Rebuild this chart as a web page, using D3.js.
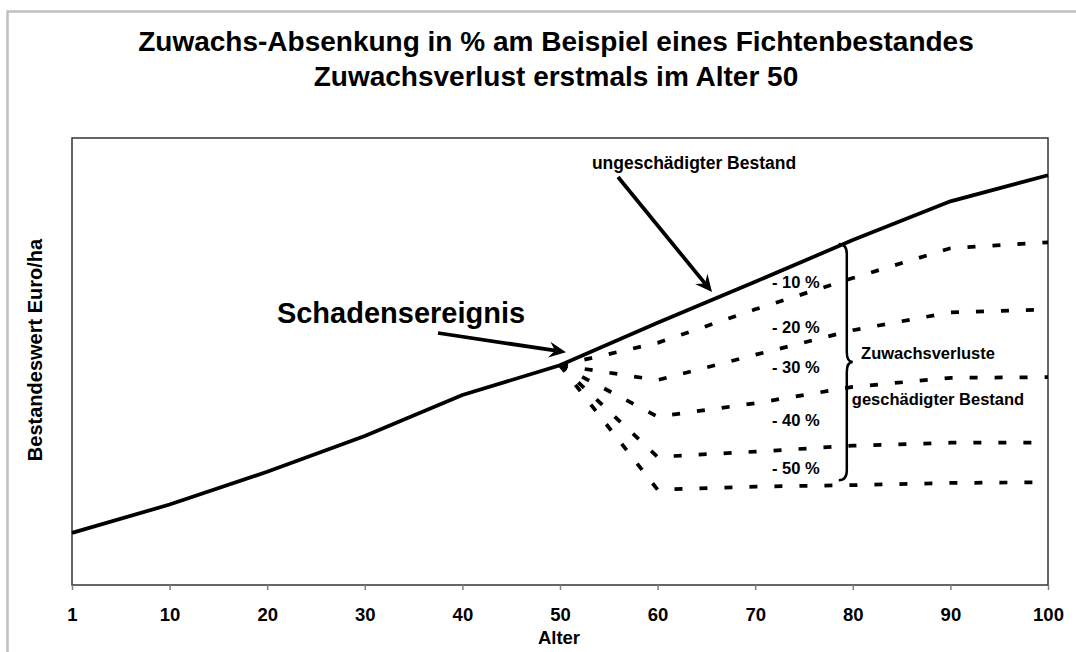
<!DOCTYPE html>
<html>
<head>
<meta charset="utf-8">
<script src="https://cdn.jsdelivr.net/npm/d3@7"></script>
<style>
  body { margin: 0; background: #fff; }
  svg { display: block; font-family: 'Liberation Sans', Arial, sans-serif; font-weight: bold; }
</style>
</head>
<body>
<div id="chart"></div>
<script>
  // Alter (category axis)
  var ages = [1, 10, 20, 30, 40, 50, 60, 70, 80, 90, 100]
  // Bestandeswert Euro/ha, ungeschaedigter Bestand
  var healthy = [3500, 5400, 7600, 10000, 12750, 14750, 17600, 20350, 23150, 25750, 27500]

  // geschaedigte Bestaende, ab Alter 50
  var damageAges = [50, 60, 70, 80, 90, 100]
  var minus10 = [14750, 16250, 18500, 20600, 22600, 23000]
  var minus20 = [14750, 13750, 15450, 17100, 18300, 18500]
  var minus30 = [14750, 11300, 12200, 13300, 13900, 13950]
  var minus40 = [14750, 8600, 8950, 9350, 9550, 9550]
  var minus50 = [14750, 6400, 6600, 6700, 6850, 6900]
  var lossLabels = ['- 10 %', '- 20 %', '- 30 %', '- 40 %', '- 50 %']

  var titleLines = ['Zuwachs-Absenkung in % am Beispiel eines Fichtenbestandes',
    'Zuwachsverlust erstmals im Alter 50']

  var width = 1076
  var height = 652
  var plot = { left: 72, top: 138, right: 1048, bottom: 585 }

  var svg = d3.select('#chart').append('svg')
              .attr('width', width)
              .attr('height', height)

  // outer chart frame (cut off at right and bottom)
  svg.append('rect')
      .attr('x', 7.5).attr('y', 11.5)
      .attr('width', 1200).attr('height', 1000)
      .attr('fill', 'none')
      .attr('stroke', '#c0c0c0')
      .attr('stroke-width', 2.5)

  svg.append('g').selectAll('text')
      .data(titleLines)
      .enter()
      .append('text')
        .attr('x', 556)
        .attr('y', function (d, i) { return 51 + i * 35 })
        .attr('text-anchor', 'middle')
        .attr('font-size', 28)
        .text(function (d) { return d })

  var x = d3.scalePoint().domain(ages).range([plot.left, plot.right])
  var y = d3.scaleLinear().domain([0, 30000]).range([plot.bottom, plot.top])

  // plot frame
  svg.append('rect')
      .attr('x', plot.left).attr('y', plot.top)
      .attr('width', plot.right - plot.left)
      .attr('height', plot.bottom - plot.top)
      .attr('fill', 'none')
      .attr('stroke', '#333')
      .attr('stroke-width', 1.5)

  var xAxis = d3.axisBottom(x).tickSize(5).tickPadding(18)
  var xAxisGroup = svg.append('g')
      .attr('transform', 'translate(0,' + plot.bottom + ')')
      .call(xAxis)
  xAxisGroup.select('.domain').remove()
  xAxisGroup.selectAll('line').attr('stroke', '#808080').attr('stroke-width', 1.5)
  xAxisGroup.selectAll('text')
      .attr('font-family', "'Liberation Sans', Arial, sans-serif")
      .attr('font-weight', 'bold')
      .attr('font-size', 18.5)
      .attr('fill', '#000')

  svg.append('text')
      .attr('x', (plot.left + plot.right) / 2 - 1)
      .attr('y', 644)
      .attr('text-anchor', 'middle')
      .attr('font-size', 18.5)
      .text('Alter')

  svg.append('text')
      .attr('transform', 'translate(42,350) rotate(-90)')
      .attr('text-anchor', 'middle')
      .attr('font-size', 20)
      .text('Bestandeswert Euro/ha')

  var line = d3.line()
      .x(function (d) { return x(d[0]) })
      .y(function (d) { return y(d[1]) })

  var lines = svg.append('g').classed('lines', true)

  var damaged = [minus10, minus20, minus30, minus40, minus50]
  lines.selectAll('path.damaged')
      .data(damaged)
      .enter()
      .append('path')
        .classed('damaged', true)
        .attr('d', function (d) { return line(d3.zip(damageAges, d)) })
        .attr('fill', 'none')
        .attr('stroke', '#000')
        .attr('stroke-width', 3.75)
        .attr('stroke-dasharray', '8,17')

  lines.append('path')
      .attr('d', line(d3.zip(ages, healthy)))
      .attr('fill', 'none')
      .attr('stroke', '#000')
      .attr('stroke-width', 3.75)

  // annotations
  function arrow (g, x1, y1, x2, y2) {
    var ang = Math.atan2(y2 - y1, x2 - x1)
    var c = Math.cos(ang)
    var s = Math.sin(ang)
    var len = 17
    var wid = 8
    g.append('line')
        .attr('x1', x1).attr('y1', y1)
        .attr('x2', x2 - c * len * 0.6).attr('y2', y2 - s * len * 0.6)
        .attr('stroke', '#000')
        .attr('stroke-width', 3.75)
    var pts = [
      [x2, y2],
      [x2 - c * len - s * wid, y2 - s * len + c * wid],
      [x2 - c * len * 0.65, y2 - s * len * 0.65],
      [x2 - c * len + s * wid, y2 - s * len - c * wid]
    ]
    g.append('path')
        .attr('d', 'M' + pts.join('L') + 'Z')
        .attr('fill', '#000')
  }

  var notes = svg.append('g').classed('notes', true)

  notes.append('text')
      .attr('x', 401).attr('y', 323)
      .attr('text-anchor', 'middle')
      .attr('font-size', 29)
      .text('Schadensereignis')
  arrow(notes, 438, 333, x(50) + 6, y(healthy[5]) - 13)

  notes.append('text')
      .attr('x', 694).attr('y', 169)
      .attr('text-anchor', 'middle')
      .attr('font-size', 17.5)
      .text('ungeschädigter Bestand')
  arrow(notes, 618, 177, 712, 292)

  var lossLabelY = [288, 333, 373, 426, 474]
  notes.selectAll('text.loss')
      .data(lossLabels)
      .enter()
      .append('text')
        .classed('loss', true)
        .attr('x', x(80) - 57)
        .attr('y', function (d, i) { return lossLabelY[i] })
        .attr('text-anchor', 'middle')
        .attr('font-size', 16.5)
        .text(function (d) { return d })

  // curly brace from healthy line down to the -50 % line at age 80
  var bx = x(80) - 14
  var sx = x(80) - 6
  var tx = x(80)
  var yT = y(healthy[8]) + 4
  var yB = y(minus50[3]) - 5
  var yM = (yT + yB) / 2
  var brace = d3.path()
  brace.moveTo(bx, yT)
  brace.quadraticCurveTo(sx, yT, sx, yT + 10)
  brace.lineTo(sx, yM - 10)
  brace.quadraticCurveTo(sx, yM, tx, yM)
  brace.quadraticCurveTo(sx, yM, sx, yM + 10)
  brace.lineTo(sx, yB - 10)
  brace.quadraticCurveTo(sx, yB, bx, yB)
  notes.append('path')
      .attr('d', brace.toString())
      .attr('fill', 'none')
      .attr('stroke', '#000')
      .attr('stroke-width', 2.5)

  notes.append('text')
      .attr('x', 928).attr('y', 359)
      .attr('text-anchor', 'middle')
      .attr('font-size', 16.5)
      .text('Zuwachsverluste')

  notes.append('text')
      .attr('x', 938).attr('y', 405)
      .attr('text-anchor', 'middle')
      .attr('font-size', 16.5)
      .text('geschädigter Bestand')
</script>
</body>
</html>
